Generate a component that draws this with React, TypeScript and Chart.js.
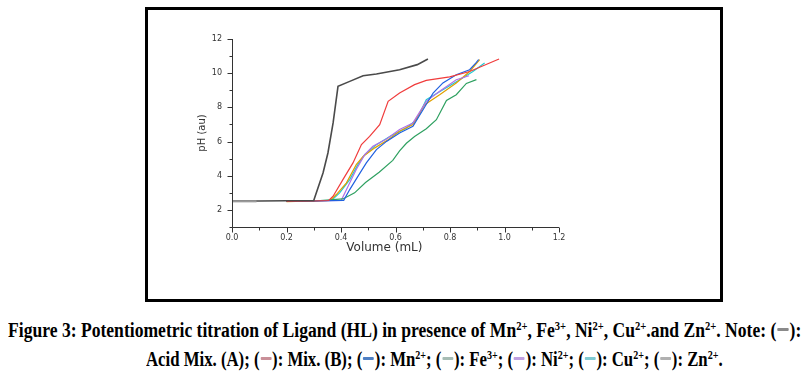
import React, { useEffect, useLayoutEffect, useRef } from "react";
import { Chart, registerables } from "chart.js";

Chart.register(...registerables);

// ---- data ----
const baseX = [0, 0.09];
const baseY = [2.5, 2.5];

const acidX = [0, 0.1, 0.2, 0.3, 0.303, 0.334, 0.352, 0.371, 0.389, 0.432, 0.481, 0.53, 0.615, 0.68, 0.719];
const acidY = [2.52, 2.52, 2.54, 2.55, 2.7, 4.16, 5.33, 7.09, 9.23, 9.52, 9.85, 9.95, 10.2, 10.5, 10.83];

const mixX = [0.2, 0.3, 0.355, 0.371, 0.407, 0.444, 0.475, 0.505, 0.542, 0.573, 0.615, 0.67, 0.713, 0.799, 0.872, 0.98];
const mixY = [2.5, 2.52, 2.55, 2.8, 3.77, 4.75, 5.82, 6.3, 6.99, 8.35, 8.84, 9.33, 9.58, 9.78, 10.1, 10.83];

const mnX = [0.2, 0.3, 0.41, 0.432, 0.462, 0.493, 0.53, 0.567, 0.615, 0.664, 0.701, 0.738, 0.774, 0.823, 0.872, 0.897, 0.905];
const mnY = [2.5, 2.52, 2.56, 3.19, 3.96, 4.75, 5.53, 6.01, 6.5, 6.89, 7.86, 8.84, 9.43, 9.91, 10.2, 10.63, 10.8];

const feX = [0.2, 0.3, 0.407, 0.45, 0.49, 0.54, 0.59, 0.615, 0.64, 0.67, 0.713, 0.75, 0.787, 0.823, 0.86, 0.897];
const feY = [2.5, 2.52, 2.64, 3.0, 3.6, 4.2, 4.9, 5.45, 5.9, 6.3, 6.75, 7.28, 8.4, 8.74, 9.4, 9.62];

const niX = [0.2, 0.3, 0.401, 0.426, 0.456, 0.487, 0.517, 0.567, 0.615, 0.664, 0.713, 0.762, 0.823, 0.87];
const niY = [2.5, 2.52, 2.56, 3.38, 4.36, 5.23, 5.72, 6.15, 6.7, 7.09, 8.35, 8.94, 9.62, 9.85];

const cuX = [0.2, 0.3, 0.365, 0.395, 0.432, 0.462, 0.487, 0.53, 0.579, 0.64, 0.677, 0.713, 0.774, 0.836, 0.884, 0.927];
const cuY = [2.5, 2.52, 2.56, 3.0, 3.77, 4.65, 5.23, 5.82, 6.3, 6.8, 7.28, 8.45, 9.03, 9.62, 10.1, 10.6];

const znX = [0.2, 0.3, 0.36, 0.383, 0.42, 0.456, 0.481, 0.524, 0.573, 0.615, 0.664, 0.707, 0.762, 0.823, 0.872, 0.909];
const znY = [2.48, 2.52, 2.55, 2.9, 3.58, 4.65, 5.13, 5.63, 6.11, 6.6, 6.99, 8.16, 8.74, 9.43, 10.1, 10.79];

const xMajor = [0, 0.2, 0.4, 0.6, 0.8, 1.0, 1.2];
const xMinor = [0.1, 0.3, 0.5, 0.7, 0.9, 1.1];
const yMajor = [2, 4, 6, 8, 10, 12];
const yMinor = [1, 3, 5, 7, 9, 11];

const xTitle = "Volume (mL)";
const yTitle = "pH (au)";

const pts = (xs: number[], ys: number[]) => xs.map((x, i) => ({ x, y: ys[i] }));

const seriesDefs = [
  { label: "base", xs: baseX, ys: baseY, color: "#9a9a9a", width: 2 },
  { label: "Acid Mix. (A)", xs: acidX, ys: acidY, color: "#4a4a4a", width: 1.6 },
  { label: "Mix. (B)", xs: mixX, ys: mixY, color: "#f03c3c", width: 1.2 },
  { label: "Mn2+", xs: mnX, ys: mnY, color: "#2060e0", width: 1.2 },
  { label: "Fe3+", xs: feX, ys: feY, color: "#2ea060", width: 1.2 },
  { label: "Ni2+", xs: niX, ys: niY, color: "#b070e8", width: 1.2 },
  { label: "Zn2+", xs: znX, ys: znY, color: "#e0a000", width: 1.2 },
  { label: "Cu2+", xs: cuX, ys: cuY, color: "#20c8d0", width: 1.2 },
];

const tickPlugin = {
  id: "customTicks",
  afterDraw(chart: any) {
    const ctx = chart.ctx;
    const xs = chart.scales.x;
    const ys = chart.scales.y;
    const area = chart.chartArea;
    ctx.save();
    ctx.strokeStyle = "#333";
    ctx.lineWidth = 1;
    ctx.beginPath();
    const L = Math.round(area.left) + 0.5;
    const B = Math.round(area.bottom) + 0.5;
    ctx.moveTo(L, Math.round(area.top));
    ctx.lineTo(L, B);
    ctx.lineTo(Math.round(area.right), B);
    xMajor.forEach((v) => {
      const p = Math.round(xs.getPixelForValue(v)) + 0.5;
      ctx.moveTo(p, B);
      ctx.lineTo(p, B + 5);
    });
    xMinor.forEach((v) => {
      const p = Math.round(xs.getPixelForValue(v)) + 0.5;
      ctx.moveTo(p, B);
      ctx.lineTo(p, B + 3);
    });
    yMajor.forEach((v) => {
      const p = Math.round(ys.getPixelForValue(v)) + 0.5;
      ctx.moveTo(L, p);
      ctx.lineTo(L - 5, p);
    });
    yMinor.forEach((v) => {
      const p = Math.round(ys.getPixelForValue(v)) + 0.5;
      ctx.moveTo(L, p);
      ctx.lineTo(L - 3, p);
    });
    ctx.stroke();
    // x title
    ctx.fillStyle = "#333";
    ctx.font = "12px 'DejaVu Sans'";
    ctx.textAlign = "center";
    ctx.textBaseline = "middle";
    ctx.fillText(xTitle, area.left + area.width * 0.466, area.bottom + 21);
    ctx.restore();
  },
};

function PlotChart() {
  const ref = useRef<HTMLCanvasElement | null>(null);
  useEffect(() => {
    if (!ref.current) return;
    const chart = new Chart(ref.current, {
      type: "scatter",
      data: {
        datasets: seriesDefs.map((s) => ({
          label: s.label,
          data: pts(s.xs, s.ys),
          showLine: true,
          borderColor: s.color,
          backgroundColor: s.color,
          borderWidth: s.width,
          pointRadius: 0,
          tension: 0,
        })),
      },
      options: {
        animation: false,
        responsive: false,
        maintainAspectRatio: false,
        layout: { padding: { left: 34, right: 161, top: 29, bottom: 32 } },
        plugins: { legend: { display: false }, tooltip: { enabled: false } },
        scales: {
          x: {
            type: "linear",
            min: 0,
            max: 1.2,
            afterFit: (s: any) => {
              s.height = 40;
            },
            afterBuildTicks: (s: any) => {
              s.ticks = xMajor.map((v) => ({ value: v }));
            },
            grid: { display: false, drawTicks: false },
            border: { display: false },
            ticks: {
              color: "#333",
              padding: 6,
              maxRotation: 0,
              font: { family: "'DejaVu Sans'", size: 8 },
              callback: (v: any) => Number(v).toFixed(1),
            },
          },
          y: {
            type: "linear",
            min: 1,
            max: 12,
            afterFit: (s: any) => {
              s.width = 50;
            },
            afterBuildTicks: (s: any) => {
              s.ticks = yMajor.map((v) => ({ value: v }));
            },
            grid: { display: false, drawTicks: false },
            border: { display: false },
            ticks: {
              color: "#333",
              padding: 10,
              font: { family: "'DejaVu Sans'", size: 8 },
              callback: (v: any) => String(v),
            },
            title: {
              display: true,
              text: yTitle,
              color: "#333",
              font: { family: "'DejaVu Sans'", size: 10 },
              padding: { top: 14, bottom: 0 },
            },
          },
        },
      },
      plugins: [tickPlugin],
    } as any);
    return () => chart.destroy();
  }, []);
  return (
    <canvas
      ref={ref}
      width={572}
      height={289}
      style={{ position: "absolute", left: 148, top: 10, width: 572, height: 289 }}
    />
  );
}

const Sw = ({ c }: { c: string }) => (
  <span
    style={{
      display: "inline-block",
      width: 13,
      height: 3,
      background: c,
      borderRadius: 1,
      position: "relative",
      top: "-0.3em",
      margin: "0 1px",
    }}
  />
);

const Sup = ({ t }: { t: string }) => (
  <span style={{ fontSize: "0.6em", position: "relative", top: "-0.6em" }}>{t}</span>
);

function FitLine({ left, right, top, children }: any) {
  const ref = useRef<HTMLSpanElement | null>(null);
  useLayoutEffect(() => {
    const el = ref.current;
    if (!el) return;
    const w = el.offsetWidth;
    if (w > 0) el.style.transform = `scaleX(${(right - left) / w})`;
  }, []);
  return (
    <span
      ref={ref}
      style={{
        position: "absolute",
        left,
        top,
        whiteSpace: "nowrap",
        display: "inline-block",
        transformOrigin: "0 0",
        fontFamily: "'Liberation Serif', 'Times New Roman', serif",
        fontWeight: "bold",
        fontSize: 20,
        lineHeight: "20px",
        color: "#000",
      }}
    >
      {children}
    </span>
  );
}

export default function App() {
  return (
    <div style={{ position: "absolute", left: 0, top: 0, width: 809, height: 375, background: "#fff" }}>
      <div
        style={{
          position: "absolute",
          left: 145,
          top: 7,
          width: 578,
          height: 295,
          border: "3px solid #000",
          boxSizing: "border-box",
        }}
      />
      <PlotChart />
      <FitLine left={8} right={801} top={320}>
        Figure 3: Potentiometric titration of Ligand (HL) in presence of Mn<Sup t="2+" />, Fe<Sup t="3+" />, Ni
        <Sup t="2+" />, Cu<Sup t="2+" />.and Zn<Sup t="2+" />. Note: (<Sw c="#8a8a8a" />):
      </FitLine>
      <FitLine left={146} right={723} top={349}>
        Acid Mix. (A); (<Sw c="#c98f98" />): Mix. (B); (<Sw c="#4f80c4" />): Mn<Sup t="2+" />; (
        <Sw c="#a6bcb4" />): Fe<Sup t="3+" />; (<Sw c="#bf9fe0" />): Ni<Sup t="2+" />; (<Sw c="#7fcad2" />): Cu
        <Sup t="2+" />; (<Sw c="#b0b0b0" />): Zn<Sup t="2+" />.
      </FitLine>
    </div>
  );
}
